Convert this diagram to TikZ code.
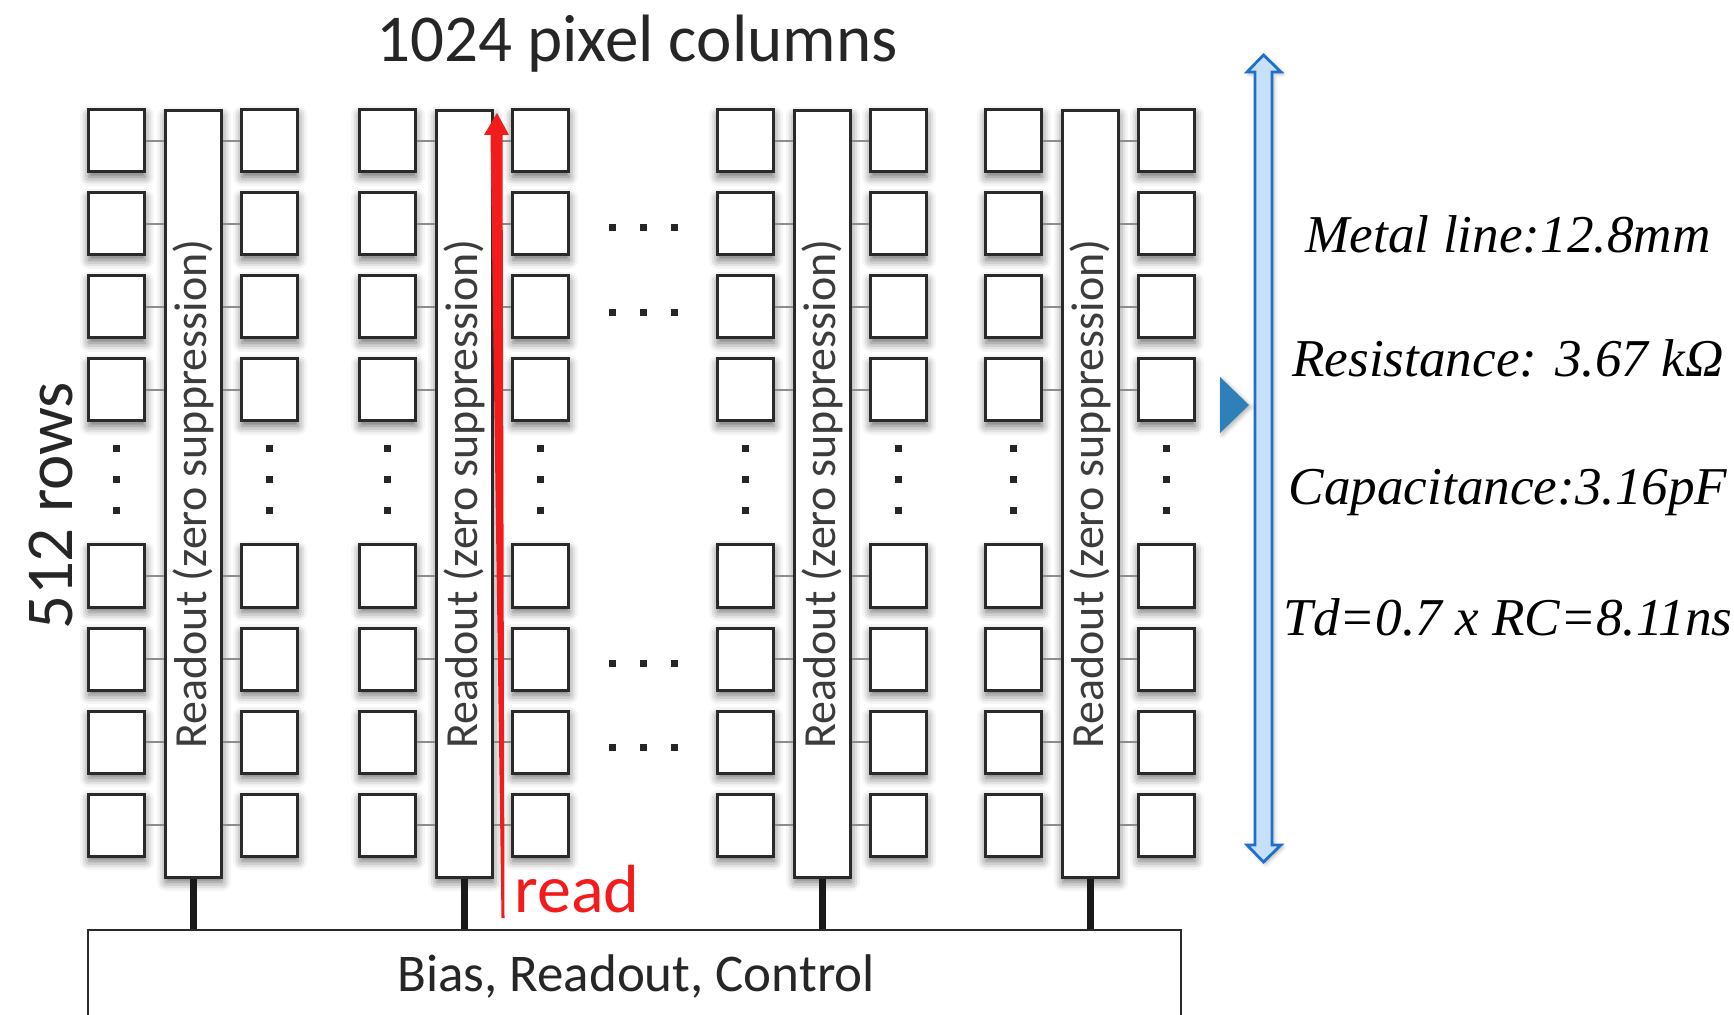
\documentclass[tikz,border=0pt]{standalone}
\usepackage{fontspec}
\usepackage{graphicx}
\setmainfont{Carlito}
\newfontfamily\specfont{Liberation Serif}
\usetikzlibrary{shadows.blur}

\definecolor{ink}{HTML}{262626}
\definecolor{boxline}{HTML}{2A2A2A}
\definecolor{linkgray}{HTML}{8C8C8C}
\definecolor{readred}{HTML}{F21C1C}
\definecolor{metalfill}{HTML}{C6E0FA}
\definecolor{metalline}{HTML}{1F6FCB}
\definecolor{pointer}{HTML}{2F80B8}

\begin{document}
\begin{tikzpicture}[x=0.5pt,y=-0.5pt,
    soft/.style={blur shadow={shadow xshift=0.5pt,shadow yshift=-2.5pt,
                 shadow blur radius=4.5pt,shadow opacity=60}},
    pixel/.style={draw=boxline,line width=1.5pt,fill=white,soft,
                  minimum width=28pt,minimum height=31pt,inner sep=0pt},
    readout/.style={draw=boxline,line width=1.5pt,fill=white,soft,
                    minimum width=28pt,minimum height=383pt,inner sep=0pt,
                    text=ink!90,font=\fontsize{23}{27}\selectfont},
    link/.style={draw=linkgray,line width=0.7pt},
    stub/.style={draw=black!90,line width=3.5pt},
    vdot/.style={fill=ink,minimum size=3.5pt,inner sep=0pt},
    title/.style={text=ink,font=\fontsize{33.5}{40}\selectfont},
    spec/.style={text=black,font=\specfont\itshape\fontsize{26.6}{31}\selectfont}]
  \useasboundingbox (0,0) rectangle (1734,1015);
  \clip (0,0) rectangle (1734,1015);

  % control block at the bottom
  \node[draw=boxline,line width=1.2pt,fill=white,minimum width=546.5pt,
        minimum height=55pt,inner sep=0pt] (bias) at (634.5,985) {};
  \node[text=ink,font=\fontsize{26.5}{32}\selectfont,anchor=base] (biaslbl)
        at (636,991) {Bias, Readout, Control};

  % four column pairs with their readout
  \foreach \g/\gx in {1/88,2/359,3/717,4/985} {
    \node[readout] (ro\g) at (\gx+105,494) {\rotatebox{90}{Readout (zero suppression)}};
    \draw[stub] (ro\g.south) -- (ro\g.south |- bias.north);
    \foreach \r/\ry in {1/141,2/224,3/307,4/390,5/576,6/659,7/742,8/825} {
      \node[pixel] (pl\g\r) at (\gx+28,\ry) {};
      \node[pixel] (pr\g\r) at (\gx+181,\ry) {};
      \draw[link] (pl\g\r.east) -- (pl\g\r.east -| ro\g.west);
      \draw[link] (pr\g\r.west) -- (pr\g\r.west -| ro\g.east);
    }
    \foreach \d/\dy in {1/449,2/480,3/511} {
      \node[vdot] (vl\g\d) at (\gx+28,\dy) {};
      \node[vdot] (vr\g\d) at (\gx+181,\dy) {};
    }
  }
  % skipped columns
  \foreach \r/\ry in {2/228,3/313,6/663,7/747}
    \foreach \k/\kx in {1/612,2/643,3/674}
      \node[vdot] (hd\r\k) at (\kx,\ry) {};

  % read direction
  \fill[readred] (497,113) -- (509,135) -- (502.5,135) -- (504.5,918)
    -- (501.5,918) -- (490.5,135) -- (484,135) -- cycle;
  \node[text=readred,font=\fontsize{34}{40}\selectfont,anchor=base] (readlbl)
        at (577,912) {read};

  \node[title,anchor=base] (cols) at (637,62) {1024 pixel columns};
  \node[title,rotate=90,anchor=base] (rows) at (72,506) {512 rows};

  % metal line
  \draw[metalline,fill=metalfill,line width=1.4pt,line join=miter,
        blur shadow={shadow xshift=1pt,shadow yshift=-1pt,shadow blur radius=2pt,shadow opacity=30}]
    (1263.5,55) -- (1281,72) -- (1272,72) -- (1272,845) -- (1281,845)
    -- (1263.5,862) -- (1247,845) -- (1255,845) -- (1255,72) -- (1247,72) -- cycle;
  \fill[pointer,blur shadow={shadow xshift=1pt,shadow yshift=-1pt,shadow blur radius=2pt,shadow opacity=30}]
    (1220,377) -- (1249,405) -- (1220,433) -- cycle;

  \node[spec,anchor=base] (len) at (1508,253) {Metal line:12.8mm};
  \node[spec,anchor=base] (res) at (1508,377) {Resistance: 3.67 kΩ};
  \node[spec,anchor=base] (cap) at (1508,505) {Capacitance:3.16pF};
  \node[spec,anchor=base] (td) at (1508,635) {Td=0.7 x RC=8.11ns};
\end{tikzpicture}
\end{document}
